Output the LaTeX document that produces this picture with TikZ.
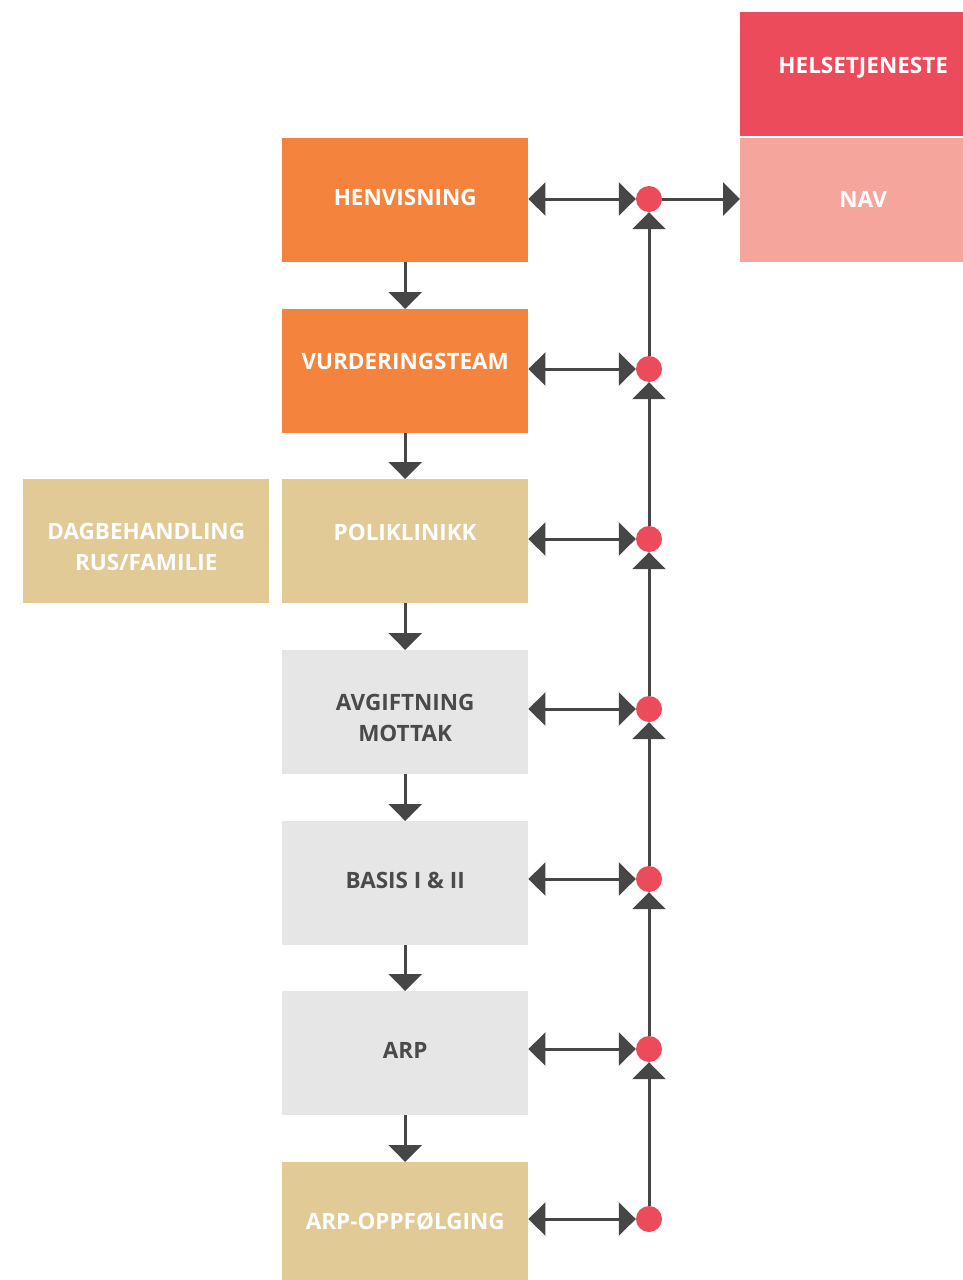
\documentclass[tikz,border=0pt]{standalone}
\usepackage{fontspec}
\setmainfont{Open Sans}
\usetikzlibrary{arrows.meta}
\definecolor{orng}{HTML}{F4843D}
\definecolor{tanc}{HTML}{E1CA96}
\definecolor{lgray}{HTML}{E6E6E6}
\definecolor{hred}{HTML}{EC4B5C}
\definecolor{pinkc}{HTML}{F6A59D}
\definecolor{dk}{HTML}{464646}
\definecolor{txtdk}{HTML}{4A4A4A}
\begin{document}
\begin{tikzpicture}[x=1pt,y=-1pt,
  box/.style={minimum width=246pt, minimum height=124pt, inner sep=0pt, anchor=north west},
  lbl/.style={align=center, inner sep=0pt, font=\bfseries\fontsize{22.5}{31}\selectfont, text=white},
  dlbl/.style={lbl, text=txtdk},
  dot/.style={circle, fill=hred, minimum size=26pt, inner sep=0pt},
  conn/.style={draw=dk, line width=3pt},
  >={Triangle[width=33pt,length=17pt]}
]
\useasboundingbox (0,0) rectangle (963,1280);

\node[box, fill=orng]  (b1) at (282,138) {};
\node[box, fill=orng]  (b2) at (282,309) {};
\node[box, fill=tanc]  (b3) at (282,479) {};
\node[box, fill=lgray] (b4) at (282,650) {};
\node[box, fill=lgray] (b5) at (282,821) {};
\node[box, fill=lgray] (b6) at (282,991) {};
\node[box, fill=tanc]  (b7) at (282,1162) {};
\node[box, fill=tanc]  (dag) at (23,479) {};
\node[box, fill=hred]  (helse) at (740,12) {};
\node[box, fill=pinkc] (nav) at (740,138) {};

\node[lbl]  (t1) at ([yshift=3pt]b1.center) {HENVISNING};
\node[lbl]  (t2) at ([yshift=10pt]b2.center) {VURDERINGSTEAM};
\node[lbl]  (t3) at ([yshift=9pt]b3.center) {POLIKLINIKK};
\node[dlbl] (t4) at ([yshift=-6pt]b4.center) {AVGIFTNING\\MOTTAK};
\node[dlbl] (t5) at ([yshift=3pt]b5.center) {BASIS I \& II};
\node[dlbl] (t6) at ([yshift=3pt]b6.center) {ARP};
\node[lbl]  (t7) at ([yshift=3pt]b7.center) {ARP-OPPFØLGING};
\node[lbl]  (tdag) at ([yshift=-6pt]dag.center) {DAGBEHANDLING\\RUS/FAMILIE};
\node[lbl]  (thelse) at ([yshift=6pt]helse.center) {HELSETJENESTE};
\node[lbl]  (tnav) at ([yshift=1pt]nav.center) {NAV};

\foreach \i in {1,...,7}{
  \node[dot] (d\i) at (649,{199+(\i-1)*170}) {};
}

\foreach \i/\j in {1/2,2/3,3/4,4/5,5/6,6/7}{
  \draw[conn,->] (b\i.south) -- (b\j.north);
  \draw[conn,->] (d\j.north) -- (d\i.south);
}
\foreach \i in {1,...,7}{
  \draw[conn,<->] (b\i.east |- d\i) -- (d\i.west);
}
\draw[conn,->] (d1.east) -- (nav.west |- d1);
\end{tikzpicture}
\end{document}
